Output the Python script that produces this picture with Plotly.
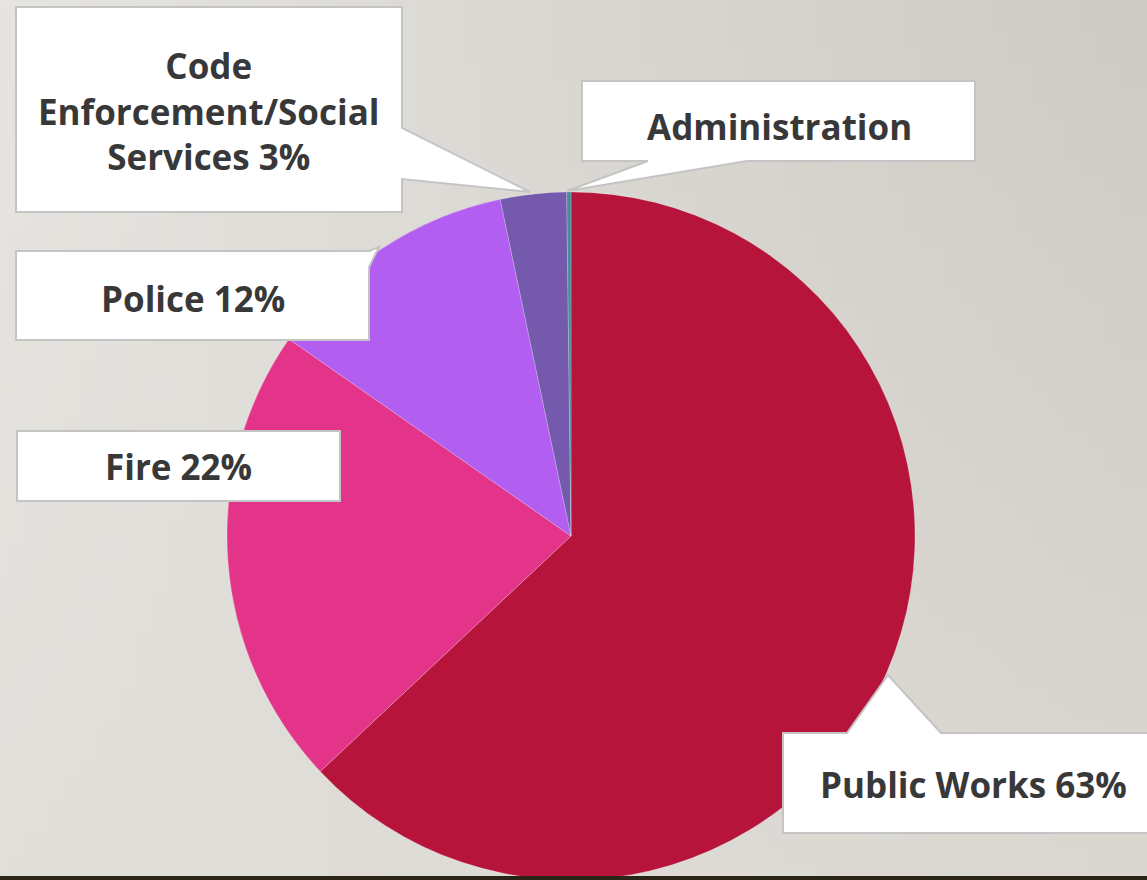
import base64, struct, zlib
import numpy as np
import plotly.graph_objects as go

# ---- data ----
departments = ["Public Works", "Fire", "Police", "Code Enforcement/Social Services", "Administration"]
shares = [63.0, 21.7, 12.0, 3.1, 0.2]
slice_colors = ["#b6143b", "#e3348a", "#b25ff1", "#7459ac", "#4a8c9c"]
label_texts = [
    "Public Works 63%",
    "Fire 22%",
    "Police 12%",
    "Code<br>Enforcement/Social<br>Services 3%",
    "Administration",
]

W, H = 1147, 880


def px(x):
    return x / W


def py(y):
    return 1 - y / H


def png_uri(arr):
    h, w, _ = arr.shape
    raw = b"".join(b"\x00" + arr[i].tobytes() for i in range(h))

    def chunk(tag, data):
        c = struct.pack(">I", len(data)) + tag + data
        return c + struct.pack(">I", zlib.crc32(tag + data) & 0xFFFFFFFF)

    png = b"\x89PNG\r\n\x1a\n" + chunk(b"IHDR", struct.pack(">IIBBBBB", w, h, 8, 2, 0, 0, 0))
    png += chunk(b"IDAT", zlib.compress(raw, 9)) + chunk(b"IEND", b"")
    return "data:image/png;base64," + base64.b64encode(png).decode()


# background gradient (style only)
gw, gh = 64, 48
u = np.linspace(0, 1, gw)[None, :, None]
v = np.linspace(0, 1, gh)[:, None, None]
TL = np.array([231, 229, 225]); TR = np.array([206, 202, 196])
BL = np.array([225, 223, 218]); BR = np.array([219, 216, 210])
bg = (TL * (1 - u) * (1 - v) + TR * u * (1 - v) + BL * (1 - u) * v + BR * u * v).astype(np.uint8)

fig = go.Figure()
fig.add_trace(go.Pie(
    labels=departments,
    values=shares,
    sort=False,
    direction="clockwise",
    rotation=0,
    textinfo="none",
    hoverinfo="label+percent",
    marker=dict(colors=slice_colors, line=dict(color="rgba(255,255,255,0.35)", width=0.6)),
    domain=dict(x=[px(227), px(915)], y=[0, py(192)]),
    showlegend=False,
))


def path_from(points):
    return "M " + " L ".join(f"{px(x):.5f},{py(y):.5f}" for x, y in points) + " Z"


callouts = [
    [(16, 7), (402, 7), (402, 128), (530, 192), (402, 179), (402, 212), (16, 212)],
    [(582, 81), (975, 81), (975, 161), (747, 161), (567, 191), (648, 161), (582, 161)],
    [(16, 251), (369, 251), (379, 247), (369, 267), (369, 340), (16, 340)],
    [(17, 431), (340, 431), (340, 501), (17, 501)],
    [(783, 733), (847, 733), (888, 675), (941, 733), (1165, 733), (1165, 833), (783, 833)],
]
shapes = [
    dict(type="path", xref="paper", yref="paper", path=path_from(p),
         fillcolor="white", line=dict(color="#c4c4c4", width=2), layer="above")
    for p in callouts
]
shapes.append(dict(type="rect", xref="paper", yref="paper", x0=0, x1=1, y0=0, y1=py(876),
                   fillcolor="#2b2519", line=dict(width=0), layer="above"))

label_pos = {
    "Public Works 63%": (973, 784),
    "Fire 22%": (178, 466),
    "Police 12%": (193, 298),
    "Code<br>Enforcement/Social<br>Services 3%": (209, 111),
    "Administration": (779, 127),
}
annotations = []
for t in label_texts:
    x, y = label_pos[t]
    annotations.append(dict(
        text=t, x=px(x), y=py(y), xref="paper", yref="paper", showarrow=False,
        xanchor="center", yanchor="middle", align="center",
        font=dict(family="Open Sans", size=35, color="#383838", weight="bold"),
    ))

fig.update_layout(
    width=W, height=H,
    margin=dict(l=0, r=0, t=0, b=0),
    paper_bgcolor="#dedbd6",
    plot_bgcolor="rgba(0,0,0,0)",
    shapes=shapes,
    annotations=annotations,
    images=[dict(source=png_uri(bg), xref="paper", yref="paper", x=0, y=1, sizex=1, sizey=1,
                 sizing="stretch", xanchor="left", yanchor="top", layer="below")],
)

fig.write_html("out.html", config={"displayModeBar": False},
               post_script="document.body.style.margin='0';document.body.style.overflow='hidden';")
